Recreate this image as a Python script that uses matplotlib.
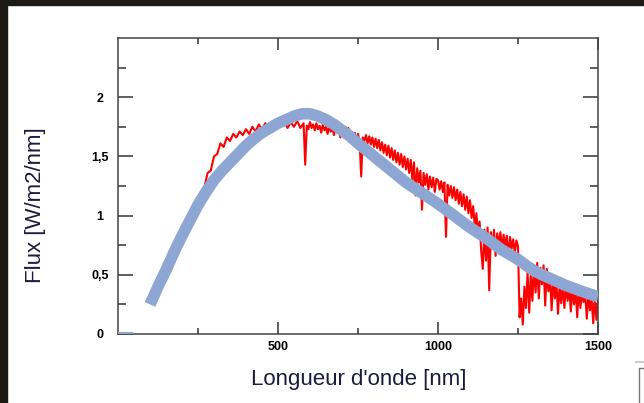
import matplotlib
matplotlib.use("Agg")
import matplotlib.pyplot as plt
from matplotlib.font_manager import FontProperties
from matplotlib.patches import Rectangle
from matplotlib.lines import Line2D

red_nm = ([200, 210, 220, 230, 240, 250, 260, 270, 280, 290,
           300, 310, 320, 330, 340, 350, 360, 370, 380, 390,
           400, 410, 420, 430, 440, 450, 460, 470, 480, 490,
           500, 510, 520, 530, 540, 550, 560, 570, 580, 585, 590, 595]
          + list(range(600, 1505, 5)))
red_flux = [0.78, 0.86, 0.93, 0.97, 1.06, 1.10, 1.20, 1.24, 1.36, 1.38,
            1.50, 1.52, 1.61, 1.58, 1.66, 1.63, 1.69, 1.66, 1.71, 1.68,
            1.73, 1.69, 1.75, 1.71, 1.77, 1.73, 1.78, 1.74, 1.79, 1.75,
            1.80, 1.76, 1.80, 1.74, 1.79, 1.75, 1.80, 1.74, 1.78, 1.43, 1.76, 1.73,
            # 600 - 995
            1.79, 1.74, 1.77, 1.72, 1.78, 1.73, 1.76, 1.70, 1.77, 1.72,
            1.75, 1.69, 1.76, 1.71, 1.74, 1.68, 1.75, 1.70, 1.73, 1.66,
            1.74, 1.69, 1.75, 1.70, 1.74, 1.67, 1.71, 1.65, 1.70, 1.64,
            1.69, 1.62, 1.33, 1.66, 1.63, 1.68, 1.61, 1.67, 1.60, 1.66,
            1.58, 1.65, 1.57, 1.64, 1.55, 1.62, 1.53, 1.60, 1.51, 1.59,
            1.49, 1.57, 1.47, 1.55, 1.45, 1.53, 1.43, 1.52, 1.41, 1.50,
            1.39, 1.48, 1.36, 1.47, 1.30, 1.45, 1.17, 1.40, 1.28, 1.38,
            1.05, 1.36, 1.26, 1.35, 1.22, 1.33, 1.24, 1.32, 1.20, 1.31,
            # 1000 - 1250
            1.30, 1.22, 1.29, 1.20, 1.28, 0.82, 1.26, 1.17, 1.25, 1.15,
            1.24, 1.13, 1.22, 1.10, 1.20, 1.08, 1.18, 1.05, 1.16, 1.02,
            1.13, 0.98, 1.08, 0.90, 1.02, 0.85, 0.95, 0.70, 0.55, 0.88,
            0.62, 0.90, 0.37, 0.86, 0.72, 0.88, 0.66, 0.85, 0.75, 0.86,
            0.70, 0.84, 0.74, 0.83, 0.64, 0.82, 0.72, 0.80, 0.68, 0.79,
            0.74,
            # 1255 - 1500
            0.14, 0.30, 0.08, 0.40, 0.22, 0.52, 0.18, 0.50, 0.28, 0.58,
            0.35, 0.60, 0.30, 0.56, 0.42, 0.58, 0.24, 0.55, 0.36, 0.50,
            0.20, 0.46, 0.30, 0.44, 0.17, 0.42, 0.26, 0.40, 0.22, 0.43,
            0.28, 0.40, 0.19, 0.41, 0.25, 0.38, 0.14, 0.40, 0.22, 0.36,
            0.27, 0.34, 0.13, 0.33, 0.20, 0.30, 0.09, 0.31, 0.12, 0.28]

# smooth model curve
blue_nm = list(range(100, 1525, 25))
blue_flux = [0.25, 0.40, 0.54, 0.69, 0.83, 0.96, 1.09, 1.20, 1.30, 1.38,
             1.45, 1.52, 1.59, 1.65, 1.70, 1.74, 1.78, 1.81, 1.84, 1.86,
             1.86, 1.84, 1.81, 1.77, 1.72, 1.67, 1.61, 1.555, 1.50, 1.445,
             1.39, 1.335, 1.28, 1.235, 1.19, 1.145, 1.10, 1.05, 1.00, 0.95,
             0.90, 0.855, 0.81, 0.76, 0.71, 0.67, 0.63, 0.58, 0.535, 0.50,
             0.47, 0.44, 0.41, 0.385, 0.36, 0.337, 0.315]
blue_stub_nm = [0, 40]
blue_stub_flux = [0, 0]

x_major = [500, 1000, 1500]
x_labels = ['500', '1000', '1500']
x_minor = [250, 750, 1250]
y_major = [0, 0.5, 1, 1.5, 2]
y_labels = ['0', '0,5', '1', '1,5', '2']
y_minor = [0.25, 0.75, 1.25, 1.75, 2.25]

RED = '#ff0000'
BLUE = '#8ea6d3'
LABEL_COL = '#1c1c3e'
W, H = 644, 403

fig = plt.figure(figsize=(W / 100, H / 100), dpi=100, facecolor='white')
ax = fig.add_axes([118 / W, 1 - 334 / H, 480 / W, 296 / H])

ax.plot(red_nm, red_flux, color=RED, lw=1.5, zorder=2)
ax.plot(blue_nm, blue_flux, color=BLUE, lw=8.3, solid_capstyle='butt',
        solid_joinstyle='round', zorder=3)
ax.plot(blue_stub_nm, blue_stub_flux, color=BLUE, lw=3, zorder=3)

ax.set_xlim(0, 1500)
ax.set_ylim(0, 2.5)

ax.set_xticks(x_major)
ax.set_xticklabels(x_labels)
ax.set_xticks(x_minor, minor=True)
ax.set_yticks(y_major)
ax.set_yticklabels(y_labels)
ax.set_yticks(y_minor, minor=True)

tick_font = FontProperties(family='Liberation Sans', weight='bold', size=9)
for lab in ax.get_xticklabels() + ax.get_yticklabels():
    lab.set_fontproperties(tick_font)
for lab in ax.get_yticklabels():
    lab.set_horizontalalignment('center')

ax.tick_params(axis='x', which='major', direction='in', length=8.5, width=1.1,
               top=True, color='#333333', pad=5)
ax.tick_params(axis='x', which='minor', direction='in', length=4, width=1.1,
               top=True, color='#333333')
ax.tick_params(axis='y', which='major', direction='in', length=10.5, width=1.1,
               right=True, color='#333333', pad=13)
ax.tick_params(axis='y', which='minor', direction='in', length=5.5, width=1.1,
               right=True, color='#333333')

for sp in ax.spines.values():
    sp.set_color('#444444')
    sp.set_linewidth(1.1)

fig.text(36 / W, 1 - 205 / H, 'Flux [W/m2/nm]', rotation=90, ha='center', va='center',
         family='Liberation Sans', size=16, color=LABEL_COL)
fig.text(359 / W, 1 - 379 / H, "Longueur d'onde [nm]", ha='center', va='center',
         family='Liberation Sans', size=16, color=LABEL_COL)

# dark window frame around the screenshot
fig.patches.append(Rectangle((0, 0), 7 / W, 1, transform=fig.transFigure,
                             color='#1d1a15', zorder=0))
fig.patches.append(Rectangle((0, 1 - 5 / H), 1, 5 / H, transform=fig.transFigure,
                             color='#1d1a15', zorder=0))
# small widget corner bottom right
fig.lines.append(Line2D([636 / W, 1], [1 - 362 / H, 1 - 362 / H], transform=fig.transFigure,
                        color='#cccccc', lw=1.5))
fig.lines.append(Line2D([639 / W, 639 / W, 1], [0, 1 - 368 / H, 1 - 368 / H],
                        transform=fig.transFigure, color='#777777', lw=1))

fig.savefig('out.png', dpi=100, facecolor='white')
